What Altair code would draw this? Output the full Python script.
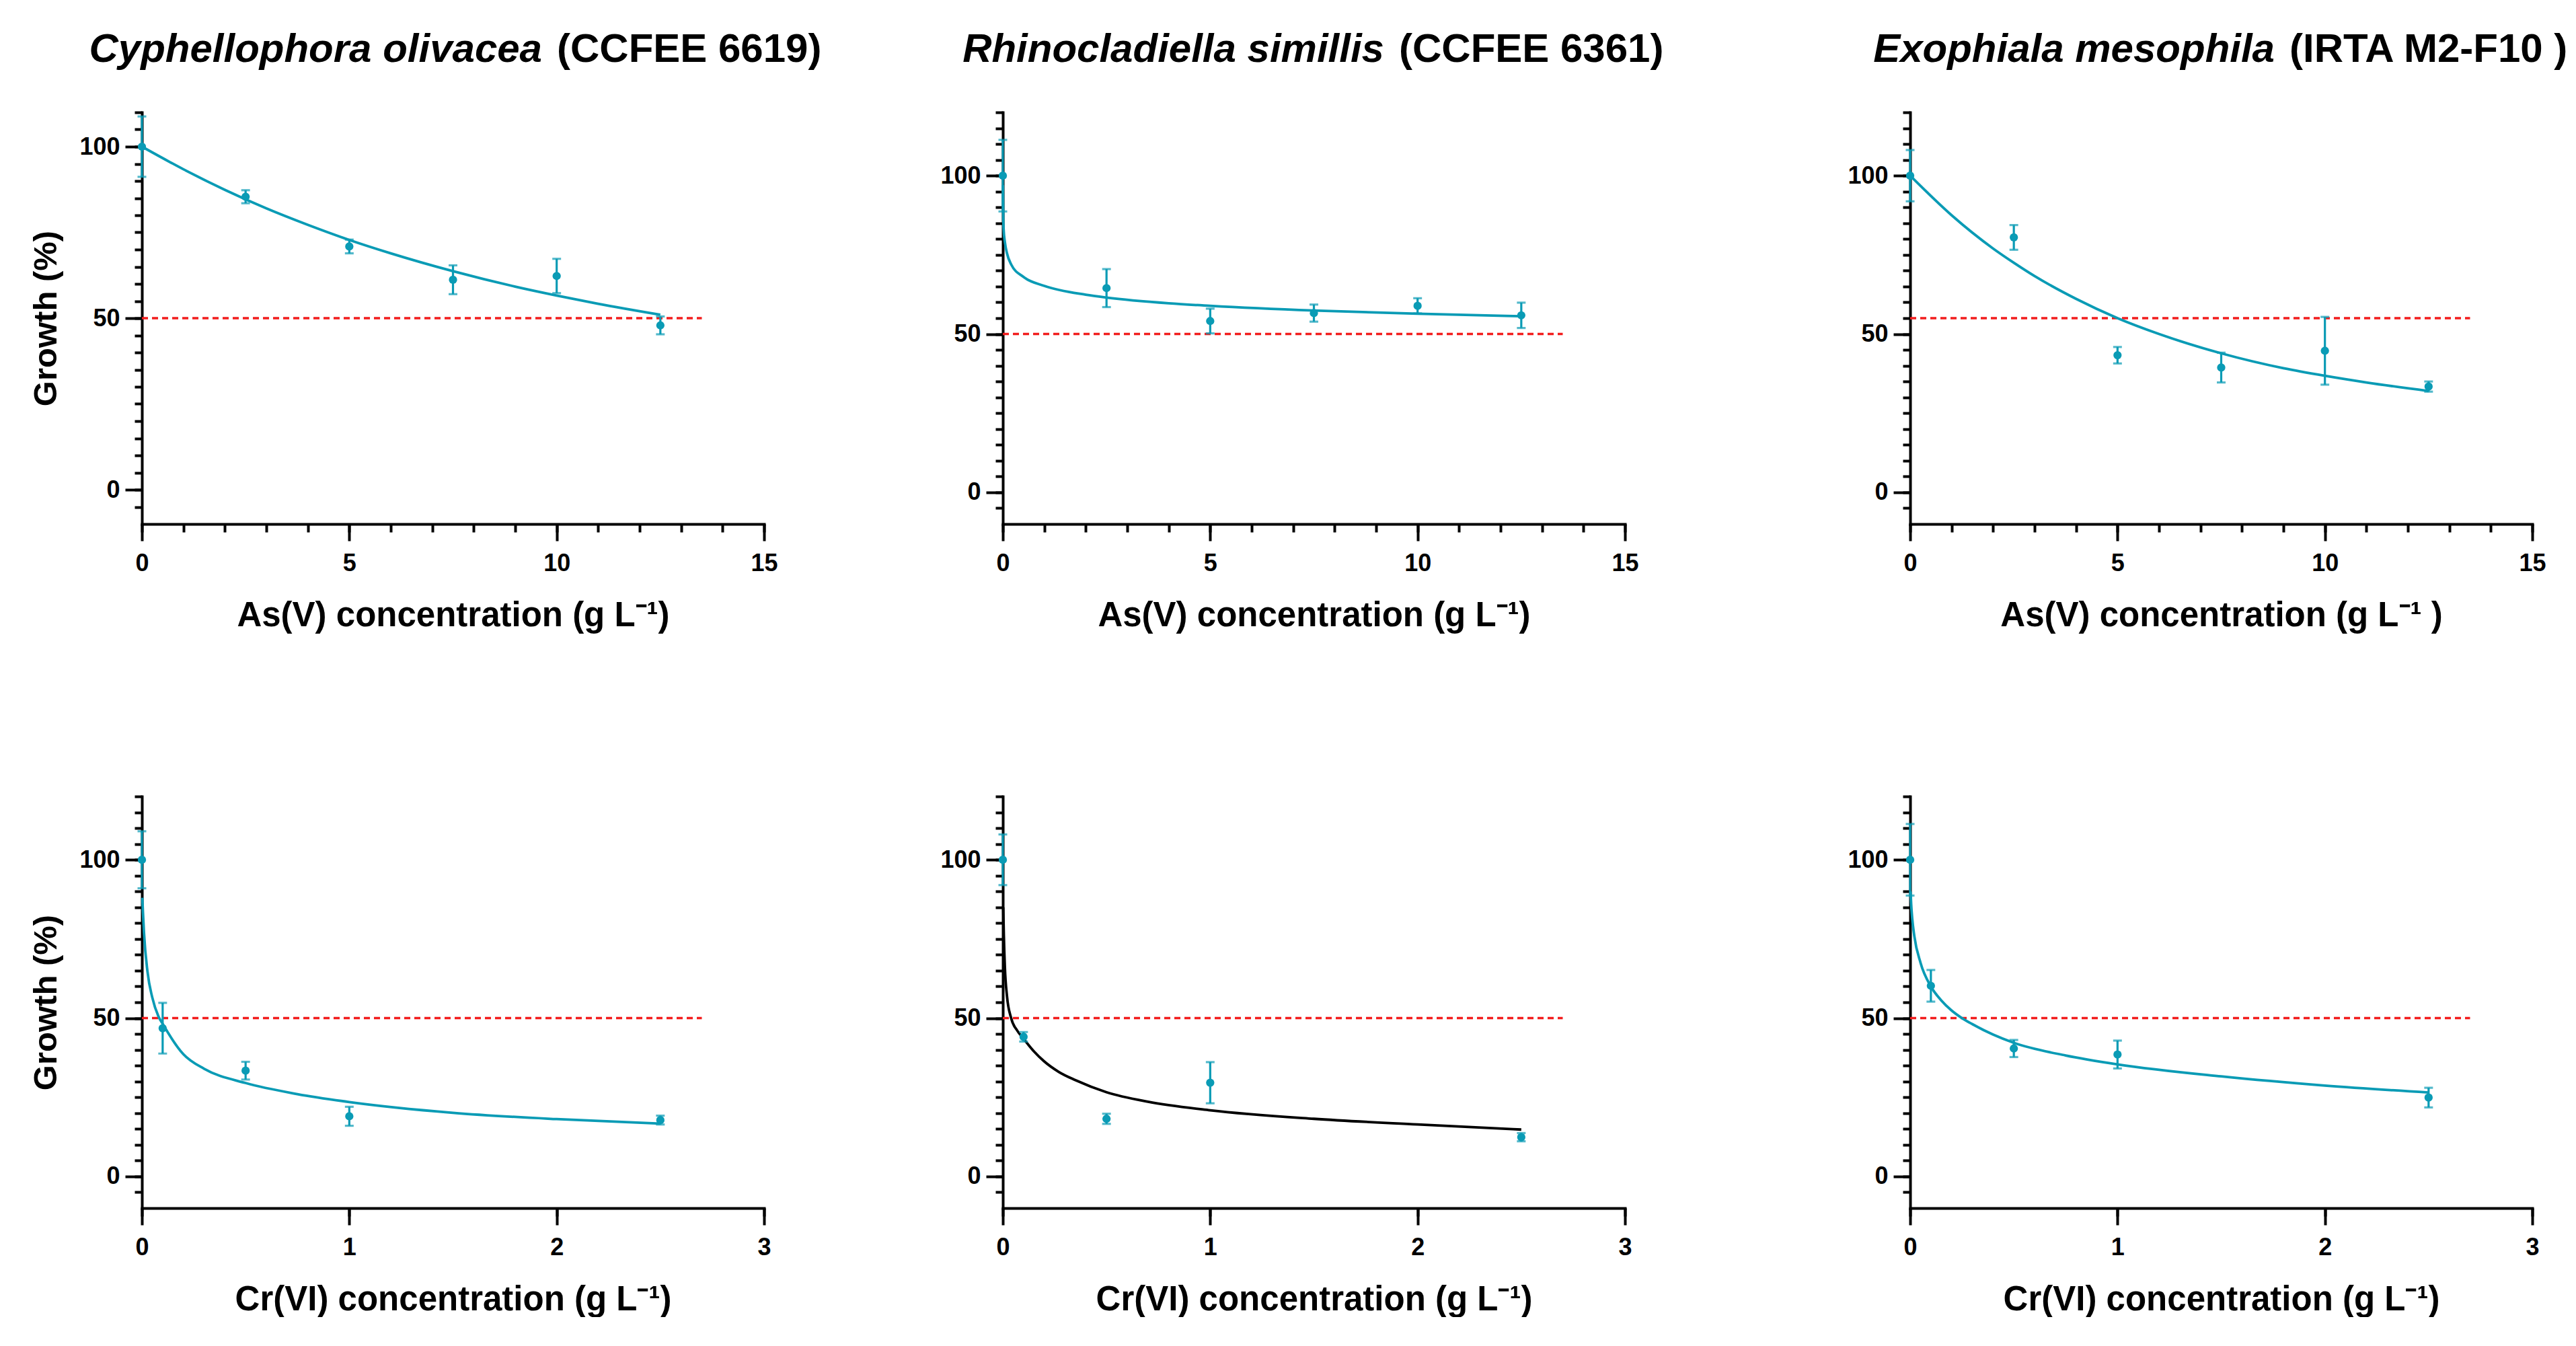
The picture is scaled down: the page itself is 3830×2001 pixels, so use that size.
import altair as alt
import pandas as pd

FONT = "Liberation Sans, Arial, Helvetica, sans-serif"
TEAL = "#0a9bb5"
RED = "#f21d1d"
BLACK = "#000000"

# ---------------- data ----------------
as_x = [0, 2.5, 5, 7.5, 10, 12.5]
cr_x = [0, 0.1, 0.5, 1, 2.5]

# Cyphellophora olivacea, As(V)
p1_mean = [100, 85.4, 70.9, 61.2, 62.3, 47.9]
p1_err = [8.8, 1.9, 2.0, 4.2, 5.0, 2.6]
c1_x = [0, 1, 2, 3, 4, 5, 6, 7.5, 9, 10, 11, 12.5]
c1_y = [100, 93.4, 87.4, 82.0, 77.2, 72.8, 68.9, 63.7, 59.2, 56.6, 54.2, 51.0]

# Rhinocladiella simillis, As(V)
p2_mean = [100, 64.5, 54.1, 56.6, 58.9, 55.9]
p2_err = [11.3, 6.0, 3.9, 2.7, 2.4, 4.0]
c2_x = [0.002, 0.01, 0.02, 0.05, 0.1, 0.2, 0.5, 1, 2, 2.5, 4, 5, 7.5, 10, 12.5]
c2_y = [97, 87, 83, 79, 75.5, 72, 68, 65.2, 62.4, 61.5, 59.7, 58.9, 57.4, 56.4, 55.6]

# Exophiala mesophila, As(V)
p3_mean = [100, 80.5, 43.3, 39.4, 44.7, 33.4]
p3_err = [8.1, 3.9, 2.6, 4.7, 10.7, 1.6]
c3_x = [0, 1, 2, 2.5, 3, 4, 5, 6, 7.5, 9, 10, 11, 12.5]
c3_y = [100, 87.5, 77.0, 72.5, 68.3, 61.1, 55.0, 50.0, 43.9, 39.2, 36.8, 34.7, 32.0]

# Cyphellophora olivacea, Cr(VI)
p4_mean = [100, 46.8, 33.4, 19.0, 17.8]
p4_err = [9.0, 8.0, 2.8, 3.0, 1.4]
c4_x = [0.002, 0.005, 0.01, 0.027, 0.05, 0.08, 0.1, 0.2, 0.3, 0.5, 0.75, 1, 1.5, 2, 2.5]
c4_y = [88, 83.5, 77, 64.6, 56.5, 50.5, 48.2, 38.6, 34, 29.5, 26, 23.5, 20.1, 18.1, 16.7]

# Rhinocladiella simillis, Cr(VI)
p5_mean = [100, 44.1, 18.2, 29.6, 12.4]
p5_err = [8.0, 1.5, 1.6, 6.5, 1.3]
c5_x = [0.002, 0.005, 0.01, 0.02, 0.04, 0.07, 0.1, 0.15, 0.2, 0.27, 0.35, 0.5, 0.7,
        1, 1.5, 2, 2.5]
c5_y = [85, 76, 66, 57, 50, 46, 43.5, 39.5, 36.3, 33.0, 30.4, 26.6, 23.6,
        20.9, 18.2, 16.4, 14.8]

# Exophiala mesophila, Cr(VI)
p6_mean = [100, 60.2, 40.4, 38.5, 24.9]
p6_err = [11.3, 5.0, 2.7, 4.4, 3.1]
c6_x = [0.002, 0.005, 0.01, 0.02, 0.05, 0.1, 0.15, 0.2, 0.25, 0.3, 0.4, 0.5, 0.75,
        1, 1.5, 2, 2.5]
c6_y = [90, 86, 81.5, 76, 67.5, 60, 55.6, 52.4, 50, 48.1, 44.8, 42.2, 38.2,
        35.4, 31.6, 28.7, 26.5]

# reference (dashed) lines: level and end of line
ref_levels = [50, 50, 55, 50, 50, 50]
ref_ends = [13.5, 13.5, 13.5, 2.7, 2.7, 2.7]

titles_species = ["Cyphellophora olivacea", "Rhinocladiella simillis", "Exophiala mesophila"]
titles_strain = ["(CCFEE 6619)", "(CCFEE 6361)", "(IRTA M2-F10 )"]
x_titles = [
    "As(V) concentration (g L\u207b\u00b9)",
    "As(V) concentration (g L\u207b\u00b9)",
    "As(V) concentration (g L\u207b\u00b9 )",
    "Cr(VI) concentration (g L\u207b\u00b9)",
    "Cr(VI) concentration (g L\u207b\u00b9)",
    "Cr(VI) concentration (g L\u207b\u00b9)",
]
y_title = "Growth (%)"

as_major = [0, 5, 10, 15]
as_minor = list(range(0, 16))
cr_major = [0, 1, 2, 3]

W, H = 925, 612


def panel(px, mean, err, cx, cy, curve_color, ref_y, ref_end, xdom, xmaj, xmin,
          ydom, xtitle, show_ytitle, title=None, split=None):
    lo = [m - e for m, e in zip(mean, err)]
    hi = [m + e for m, e in zip(mean, err)]
    pts = pd.DataFrame({"x": px, "m": mean, "lo": lo, "hi": hi})
    crv = pd.DataFrame({"x": cx, "y": cy})
    ref = pd.DataFrame({"x0": [0], "x1": [ref_end], "y": [ref_y]})
    ymin = list(range(-5, ydom[1] + 1, 5))

    xs = alt.Scale(domain=xdom, nice=False, zero=False)
    ys = alt.Scale(domain=ydom, nice=False, zero=False)

    ax_major = alt.Axis(orient="bottom", values=xmaj, tickSize=25, labelPadding=16,
                        labelFlush=False, labelOverlap=False, format="d",
                        titlePadding=35, titleFontSize=51)
    ax_minor = alt.Axis(orient="bottom", values=xmin, tickSize=12, labels=False,
                        domain=False)
    ay_major = alt.Axis(orient="left", values=[0, 50, 100], tickSize=25, labelPadding=8,
                        labelFlush=False, labelOverlap=False, format="d",
                        titlePadding=24, titleFontSize=49)
    ay_minor = alt.Axis(orient="left", values=ymin, tickSize=11, labels=False,
                        domain=False)

    refl = alt.Chart(ref).mark_rule(color=RED, strokeWidth=3.5, strokeDash=[9, 6]).encode(
        x=alt.X("x0:Q", scale=xs, axis=ax_minor, title=None),
        x2="x1:Q",
        y=alt.Y("y:Q", scale=ys, axis=ay_minor, title=None),
    )
    curve = alt.Chart(crv).mark_line(color=curve_color, strokeWidth=3.8,
                                     interpolate="monotone").encode(
        x=alt.X("x:Q", scale=xs, axis=ax_major, title=xtitle),
        y=alt.Y("y:Q", scale=ys, axis=ay_major, title=y_title if show_ytitle else None),
    )
    bars = alt.Chart(pts).mark_rule(color=TEAL, strokeWidth=3.2).encode(
        x=alt.X("x:Q", scale=xs, axis=None),
        y=alt.Y("lo:Q", scale=ys, axis=None),
        y2="hi:Q",
    )
    caps = alt.Chart(pts).transform_fold(["lo", "hi"], as_=["k", "v"]).mark_tick(
        color=TEAL, orient="horizontal", size=13, thickness=3.2).encode(
        x=alt.X("x:Q", scale=xs, axis=None),
        y=alt.Y("v:Q", scale=ys, axis=None),
    )
    dots = alt.Chart(pts).mark_circle(color=TEAL, size=150, opacity=1).encode(
        x=alt.X("x:Q", scale=xs, axis=None),
        y=alt.Y("m:Q", scale=ys, axis=None),
    )
    layers = [refl, curve, bars, caps, dots]
    if title is not None:
        tdf = pd.DataFrame({"a": [title[0]], "b": [title[1]]})
        t1 = alt.Chart(tdf).mark_text(align="right", baseline="alphabetic", font=FONT,
                                      fontSize=60, fontWeight="bold", fontStyle="italic",
                                      color=BLACK).encode(
            text="a:N", x=alt.value(split[0]), y=alt.value(-75))
        t2 = alt.Chart(tdf).mark_text(align="left", baseline="alphabetic", font=FONT,
                                      fontSize=60, fontWeight="bold", color=BLACK).encode(
            text="b:N", x=alt.value(split[1]), y=alt.value(-75))
        layers += [t1, t2]
    return alt.layer(*layers).resolve_axis(x="independent", y="independent").properties(
        width=W, height=H)


def spacer(w, top=0):
    return alt.Chart(pd.DataFrame({"v": [0]})).mark_rule(opacity=0, strokeWidth=0).encode(
        x=alt.value(0), y=alt.value(-top), y2=alt.value(0)).properties(width=w, height=H)


P1 = panel(as_x, p1_mean, p1_err, c1_x, c1_y, TEAL, ref_levels[0], ref_ends[0], [0, 15],
           as_major, as_minor, [-10, 110], x_titles[0], True,
           (titles_species[0], titles_strain[0]), (595, 617))
P2 = panel(as_x, p2_mean, p2_err, c2_x, c2_y, TEAL, ref_levels[1], ref_ends[1], [0, 15],
           as_major, as_minor, [-10, 120], x_titles[1], False,
           (titles_species[1], titles_strain[1]), (567, 589))
P3 = panel(as_x, p3_mean, p3_err, c3_x, c3_y, TEAL, ref_levels[2], ref_ends[2], [0, 15],
           as_major, as_minor, [-10, 120], x_titles[2], False,
           (titles_species[2], titles_strain[2]), (542, 564))
P4 = panel(cr_x, p4_mean, p4_err, c4_x, c4_y, TEAL, ref_levels[3], ref_ends[3], [0, 3],
           cr_major, cr_major, [-10, 120], x_titles[3], True)
P5 = panel(cr_x, p5_mean, p5_err, c5_x, c5_y, BLACK, ref_levels[4], ref_ends[4], [0, 3],
           cr_major, cr_major, [-10, 120], x_titles[4], False)
P6 = panel(cr_x, p6_mean, p6_err, c6_x, c6_y, TEAL, ref_levels[5], ref_ends[5], [0, 3],
           cr_major, cr_major, [-10, 120], x_titles[5], False)

cells = [spacer(202, 158), P1, spacer(355), P2, spacer(424), P3,
         spacer(202), P4, spacer(355), P5, spacer(424), P6]

chart = alt.concat(*cells, columns=6, spacing={"row": 405, "column": 0},
                   bounds="flush", align="each", padding=0).configure_view(
    stroke="transparent").configure_axis(
    grid=False, domainColor=BLACK, domainWidth=4, domainCap="square",
    tickColor=BLACK, tickWidth=4, labelFont=FONT, labelFontSize=36,
    labelFontWeight="bold", labelColor=BLACK, titleFont=FONT,
    titleFontWeight="bold", titleColor=BLACK)

chart.save("out.html", embed_options={"renderer": "svg", "actions": False})
